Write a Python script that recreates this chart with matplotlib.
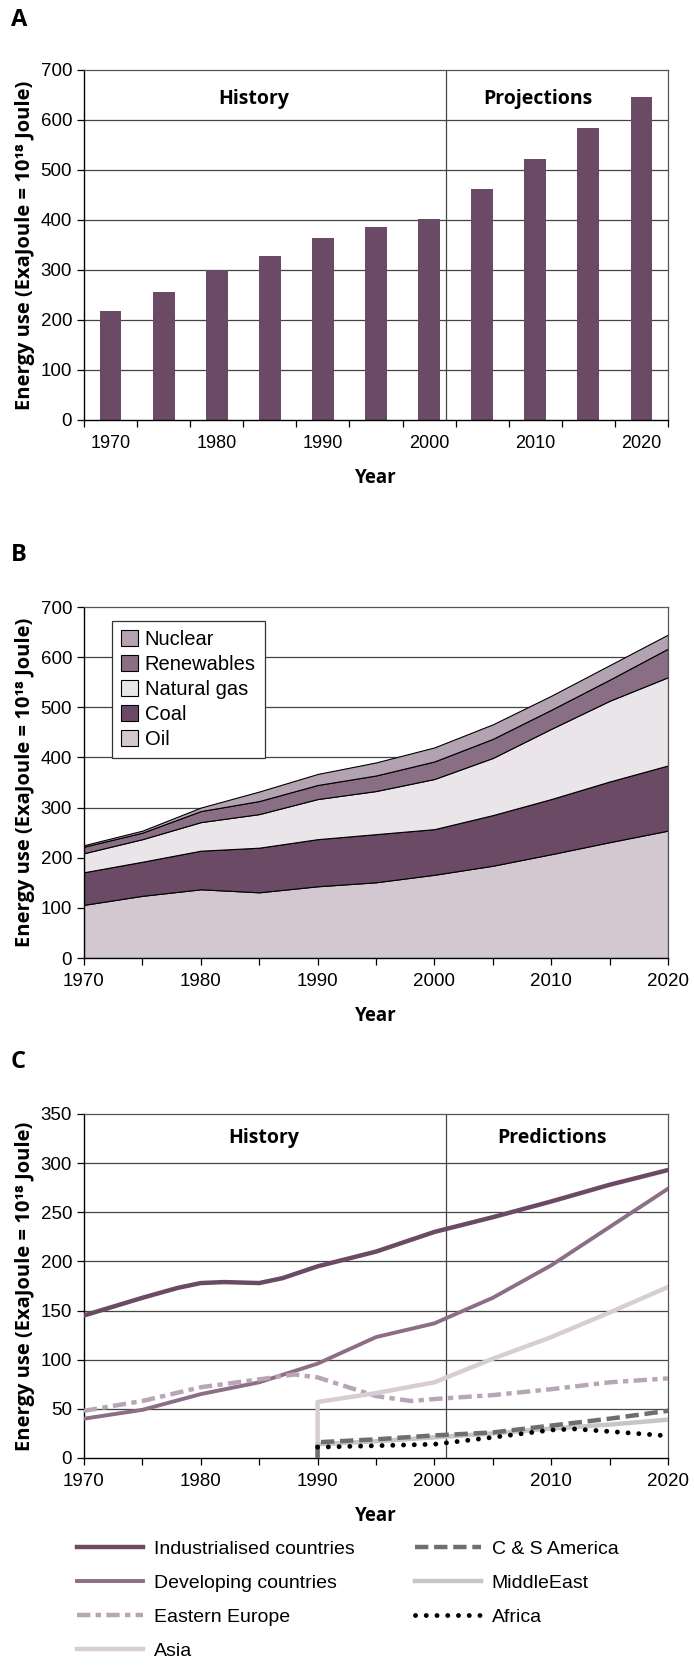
import matplotlib
matplotlib.use("Agg")
import matplotlib.pyplot as plt
from matplotlib.patches import Patch

# ---- data ----
years = [1970, 1975, 1980, 1985, 1990, 1995, 2000, 2005, 2010, 2015, 2020]
total_use = [217, 256, 300, 328, 364, 386, 402, 462, 521, 583, 645]

oil = [106, 124, 137, 131, 143, 151, 166, 184, 207, 231, 254]
coal = [65, 68, 77, 89, 94, 96, 91, 101, 110, 121, 130]
natural_gas = [38, 45, 57, 67, 80, 86, 100, 114, 140, 161, 176]
renewables = [13, 13, 22, 26, 28, 31, 35, 38, 38, 42, 57]
nuclear = [3, 4, 7, 19, 22, 26, 28, 29, 28, 29, 28]

ind_years = [1970, 1975, 1978, 1980, 1982, 1985, 1987, 1990, 1995, 2000, 2005, 2010, 2015, 2020]
industrialised = [145, 163, 173, 178, 179, 178, 183, 195, 210, 230, 245, 261, 278, 293]
developing = [40, 49, 65, 77, 96, 123, 137, 163, 196, 235, 274]
ee_years = [1970, 1975, 1980, 1985, 1988, 1990, 1995, 1998, 2000, 2005, 2010, 2015, 2020]
eastern_europe = [48, 58, 72, 80, 85, 82, 63, 58, 60, 64, 70, 77, 81]
new_years = [1990, 1990, 1995, 2000, 2005, 2010, 2015, 2020]
asia = [0, 57, 66, 77, 101, 123, 148, 174]
cs_america = [0, 16, 19, 23, 26, 33, 40, 48]
middle_east = [0, 14, 17, 21, 25, 30, 34, 39]
africa_years = [1990, 1995, 2000, 2005, 2010, 2012, 2015, 2020]
africa = [11, 12.5, 14, 21, 28.5, 29.5, 27, 22.5]

NARROW = "Liberation Sans"
BOLD = "Open Sans"
plt.rcParams["font.family"] = [NARROW, "DejaVu Sans"]
plt.rcParams["font.size"] = 13

mauve = "#6a4a65"
W, H = 694, 1669
fig = plt.figure(figsize=(W / 100, H / 100), dpi=100)


def make_axes(top, bottom, left=84, right=668):
    return fig.add_axes([left / W, 1 - bottom / H, (right - left) / W, (bottom - top) / H])


def style(ax, ymax, step):
    ax.set_ylim(0, ymax)
    ax.set_yticks(range(0, ymax + 1, step))
    for y in range(step, ymax, step):
        ax.axhline(y, color="#444444", lw=0.9, zorder=0)
    for s in ["top", "right"]:
        ax.spines[s].set_color("#555555")
        ax.spines[s].set_linewidth(0.9)
    ax.spines["left"].set_linewidth(1.0)
    ax.spines["bottom"].set_linewidth(1.0)
    ax.tick_params(axis="both", direction="out", length=5, width=0.9, labelsize=13.5)
    ax.tick_params(axis="x", pad=6)
    ax.set_ylabel("Energy use (ExaJoule = 10¹⁸ Joule)", fontsize=14.5,
                  fontweight="bold", family=[BOLD, "DejaVu Sans"], labelpad=4)
    ax.set_xlabel("Year", fontsize=13.5, fontweight="bold", family=[BOLD, "DejaVu Sans"],
                  labelpad=11)


# ---- panel A ----
axA = make_axes(70, 420)
idx = list(range(len(years)))
axA.bar(idx, total_use, width=0.41, color=mauve, zorder=2)
axA.set_xlim(-0.5, len(years) - 0.5)
style(axA, 700, 100)
axA.set_xticks([i - 0.5 for i in range(len(years) + 1)], [""] * (len(years) + 1))
axA.set_xticks(idx[::2], [str(y) for y in years[::2]], minor=True)
axA.tick_params(axis="x", which="minor", length=0, pad=11)
axA.axvline(6.32, color="#444444", lw=0.9, zorder=1)
axA.text(2.7, 641, "History", ha="center", va="center", fontsize=14,
         fontweight="bold", family=[BOLD, "DejaVu Sans"])
axA.text(8.05, 641, "Projections", ha="center", va="center", fontsize=14,
         fontweight="bold", family=[BOLD, "DejaVu Sans"])
fig.text(11 / W, 1 - 20 / H, "A", fontsize=17, fontweight="bold",
         family=[BOLD, "DejaVu Sans"], va="center")

# ---- panel B ----
axB = make_axes(607, 958)
colors_b = ["#d3c8d0", mauve, "#e9e5e9", "#8a6e85", "#b3a2b1"]
names_b = ["Oil", "Coal", "Natural gas", "Renewables", "Nuclear"]
axB.stackplot(years, oil, coal, natural_gas, renewables, nuclear, colors=colors_b,
              edgecolor="black", linewidth=0.8, zorder=2)
axB.set_xlim(1970, 2020)
style(axB, 700, 100)
axB.set_xticks(range(1970, 2021, 10))
axB.set_xticks(range(1975, 2020, 10), minor=True)
axB.tick_params(axis="x", which="minor", direction="out", length=5, width=0.9)
handles = [Patch(facecolor=c, edgecolor="black", lw=0.8) for c in colors_b]
leg = axB.legend(handles[::-1], names_b[::-1], loc="upper left",
                 bbox_to_anchor=(0.03, 0.99), fancybox=False, framealpha=1,
                 edgecolor="#333333", fontsize=14.5, handlelength=0.85, handleheight=0.85,
                 handletextpad=0.35, labelspacing=0.3, borderpad=0.45)
leg.get_frame().set_linewidth(0.9)
leg.set_zorder(5)
fig.text(11 / W, 1 - 555 / H, "B", fontsize=17, fontweight="bold",
         family=[BOLD, "DejaVu Sans"], va="center")

# ---- panel C ----
axC = make_axes(1114, 1458)
axC.plot(ind_years, industrialised, color=mauve, lw=3.2, label="Industrialised countries", zorder=3)
axC.plot(years, developing, color="#8c6e87", lw=2.8, label="Developing countries", zorder=3)
axC.plot(ee_years, eastern_europe, color="#b7a6b5", lw=3.2, dashes=(3, 1.2, 1.2, 1.2),
         label="Eastern Europe", zorder=3)
axC.plot(new_years, asia, color="#d7cdd5", lw=3.2, label="Asia", zorder=3)
axC.plot(new_years, middle_east, color="#c6c6c6", lw=3.2, label="MiddleEast", zorder=3)
axC.plot(new_years, cs_america, color="#6e6e6e", lw=3.2, dashes=(3, 1.3),
         label="C & S America", zorder=4)
axC.plot(africa_years, africa, color="black", lw=3.5, linestyle=(0, (0.01, 2.2)),
         dash_capstyle="round", label="Africa", zorder=4)
axC.set_xlim(1970, 2020)
style(axC, 350, 50)
axC.set_xticks(range(1970, 2021, 10))
axC.set_xticks(range(1975, 2020, 10), minor=True)
axC.tick_params(axis="x", which="minor", direction="out", length=5, width=0.9)
axC.axvline(2001, color="#444444", lw=0.9, zorder=1)
axC.text(1985.4, 326, "History", ha="center", va="center", fontsize=14,
         fontweight="bold", family=[BOLD, "DejaVu Sans"])
axC.text(2010.1, 326, "Predictions", ha="center", va="center", fontsize=14,
         fontweight="bold", family=[BOLD, "DejaVu Sans"])
fig.text(11 / W, 1 - 1062 / H, "C", fontsize=17, fontweight="bold",
         family=[BOLD, "DejaVu Sans"], va="center")

h, l = axC.get_legend_handles_labels()
order = ["Industrialised countries", "Developing countries", "Eastern Europe", "Asia",
         "C & S America", "MiddleEast", "Africa"]
hd = dict(zip(l, h))
fig.legend([hd[k] for k in order], order, loc="upper left", ncol=2,
           bbox_to_anchor=(77 / W, 1 - 1540 / H), frameon=False, fontsize=14,
           handlelength=3.4, handletextpad=0.55, labelspacing=0.85, columnspacing=3.1,
           borderpad=0, borderaxespad=0)

fig.savefig("out.png", dpi=100)
